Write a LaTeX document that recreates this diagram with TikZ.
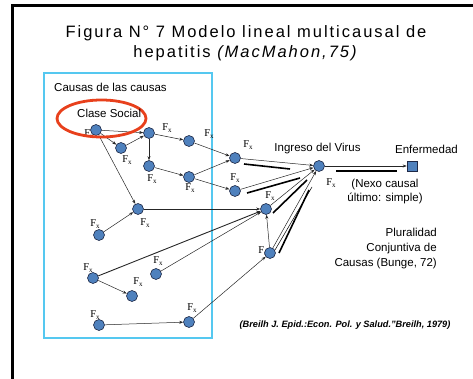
\documentclass[tikz,border=0pt]{standalone}
\usepackage{fontspec}
\setmainfont{Liberation Sans}
\newfontfamily\seriffont{Liberation Serif}
\newfontfamily\titlefont[LetterSpace=12]{Liberation Sans}
\usetikzlibrary{arrows.meta,calc}
\definecolor{nodeblue}{RGB}{79,129,189}
\definecolor{nodeedge}{RGB}{30,40,70}
\definecolor{boxcyan}{RGB}{85,200,240}
\definecolor{ellred}{RGB}{232,64,28}
\newcommand\fxl{F\raisebox{-2.5pt}{\fontsize{7}{7}\selectfont x}}
\begin{document}
\begin{tikzpicture}[x=1pt,y=-1pt,
  dot/.style={circle,draw=nodeedge,fill=nodeblue,minimum size=11pt,inner sep=0pt,line width=0.6pt},
  sq/.style={rectangle,draw=nodeedge,fill=nodeblue,minimum size=10pt,inner sep=0pt,line width=0.6pt},
  fx/.style={font=\seriffont\fontsize{10.5}{10}\selectfont,inner sep=0pt},
  arr/.style={-{Stealth[length=4pt,width=3pt]},line width=0.5pt,black!85},
  thk/.style={line width=1.6pt,black},
  lbl/.style={font=\fontsize{11.5}{14}\selectfont,inner sep=0pt}]
\useasboundingbox (0,0) rectangle (473,379);
% frame
\draw[line width=2.6pt] (12.5,379) -- (12.5,5.3) -- (473,5.3);
% title
\node[font=\titlefont\fontsize{16.5}{20}\selectfont,align=center,inner sep=0pt] (title) at (246,43)
  {Figura N° 7 Modelo lineal multicausal de\\hepatitis \textit{(MacMahon,75)}};
% box
\draw[boxcyan,line width=1.4pt] (44,73) rectangle (212,338);
% coordinates of nodes
\coordinate (cs) at (96,130);
\coordinate (a2) at (149,133);
\coordinate (b) at (121,148);
\coordinate (c) at (149,166);
\coordinate (d) at (189,141);
\coordinate (e) at (189,177);
\coordinate (f) at (235,158);
\coordinate (g) at (235,191);
\coordinate (v) at (319,166);
\coordinate (h) at (266,209);
\coordinate (i) at (270,253);
\coordinate (j) at (138,209);
\coordinate (k) at (99,235);
\coordinate (l) at (93,278);
\coordinate (m) at (156,274);
\coordinate (n) at (132,296);
\coordinate (o) at (99,325);
\coordinate (p) at (189,322);
\coordinate (en) at (412,166);
% Fx labels
\node[fx] (lcs) at (89,134) {\fxl};
\node[fx] (la2) at (167,128) {\fxl};
\node[fx] (lb) at (127,160) {\fxl};
\node[fx] (lc) at (152,179) {\fxl};
\node[fx] (ld) at (209,134) {\fxl};
\node[fx] (le) at (190,188) {\fxl};
\node[fx] (lf) at (248,145) {\fxl};
\node[fx] (lg) at (235,178) {\fxl};
\node[fx] (lh) at (270,196) {\fxl};
\node[fx] (li) at (263,251) {\fxl};
\node[fx] (lv) at (331,183) {\fxl};
\node[fx] (lj) at (145,223) {\fxl};
\node[fx] (lk) at (95,224) {\fxl};
\node[fx] (ll) at (88,268) {\fxl};
\node[fx] (lm) at (158,261) {\fxl};
\node[fx] (ln) at (138,282) {\fxl};
\node[fx] (lo) at (95,315) {\fxl};
\node[fx] (lp) at (192,308) {\fxl};
% nodes
\foreach \q in {cs,a2,b,c,d,e,f,g,v,h,i,j,k,l,m,n,o,p}{\node[dot] (N\q) at (\q) {};}
\node[sq] (Nen) at (en) {};
% edges
\draw[arr] (Ncs) -- (Na2);
\draw[arr] (Ncs) -- (Nb);
\draw[arr] (Nb) -- (Na2);
\draw[arr] (Na2) -- (Nc);
\draw[arr] (Na2) -- (Nd);
\draw[arr] (Nc) -- (Ne);
\draw[arr] (Nd) -- (Nf);
\draw[arr] (Ne) -- (Nf);
\draw[arr] (Ne) -- (Ng);
\draw[arr] (Ncs) -- (Nj);
\draw[arr] (Nk) -- (Nj);
\draw[arr] (Nj) -- (Nh);
\draw[arr,line width=0.9pt] (Nl) -- (Nh);
\draw[arr] (Nm) -- (Nh);
\draw[arr] (Nl) -- (Nn);
\draw[arr] (No) -- (Np);
\draw[arr] (Np) -- (Ni);
\draw[arr] (Ni) -- (Nh);
\draw[arr] (Nf) -- (Nv);
\draw[arr] (Ng) -- (Nv);
\draw[arr] (Nh) -- (Nv);
\draw[arr] (Ni) -- (Nv);
\draw[line width=0.5pt] ($(i)+(5,-3)$) -- ($(v)+(-7,21)$);
\draw[arr] (Nv) -- (Nen);
% thick companion lines
\draw[thk] ($(f)+(9,6)$) -- ($(v)+(-29,3)$);
\draw[thk] ($(g)+(12,2)$) -- ($(v)+(-19,12)$);
\draw[thk] ($(h)+(7,4)$) -- ($(v)+(-12,14)$);
\draw[thk] ($(i)+(9,0)$) -- ($(v)+(-10,24)$);
\draw[thk] ($(v)+(17,5)$) -- ($(en)+(-15,5)$);
% ellipse
\draw[ellred,line width=2.8pt] (101.5,118.5) ellipse [x radius=44.5pt,y radius=18.5pt];
% texts
\node[lbl,anchor=west] (t1) at (54,87) {Causas de las causas};
\node[lbl,anchor=west] (t2) at (77,113) {Clase Social};
\node[lbl] (t3) at (317.5,149) {Ingreso del Virus};
\node[lbl] (t4) at (426.5,149) {Enfermedad};
\node[lbl,align=center] (t5) at (385,192) {(Nexo causal\\último: simple)};
\node[lbl,align=right,anchor=east,font=\fontsize{11.5}{15}\selectfont] (t6) at (437,249) {Pluralidad\\Conjuntiva de\\Causas (Bunge, 72)};
\node[inner sep=0pt,font=\fontsize{9.2}{10}\selectfont\bfseries\itshape] (t7) at (345,325) {(Breilh J. Epid.:Econ. Pol. y Salud.”Breilh, 1979)};
\end{tikzpicture}
\end{document}
